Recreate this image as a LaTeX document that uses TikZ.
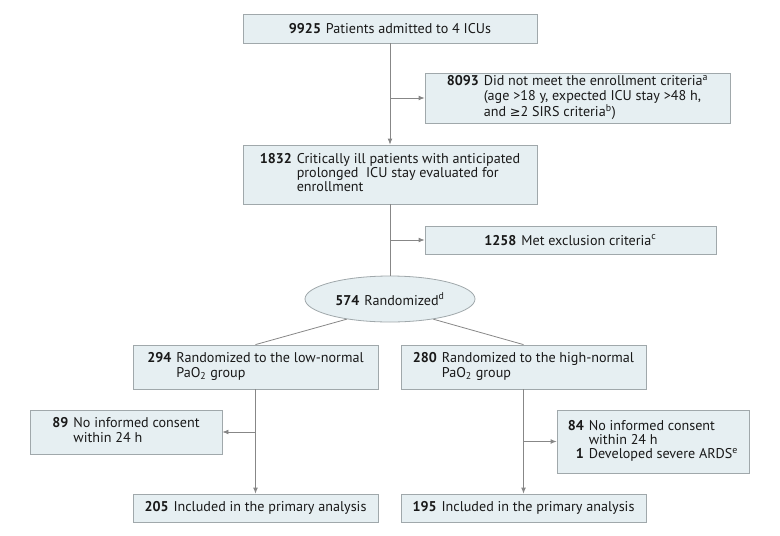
\documentclass[tikz,border=0pt]{standalone}
\usepackage{fontspec}
\setmainfont{PT Sans}
\newfontfamily\symfont{DejaVu Sans}
\usetikzlibrary{arrows.meta,shapes.geometric}

\definecolor{boxfill}{RGB}{230,239,242}
\definecolor{boxline}{RGB}{160,168,171}
\definecolor{flowline}{RGB}{135,135,135}

\tikzset{every picture/.style={line width=0.75pt}}
\tikzset{
  flowbox/.style={draw=boxline,fill=boxfill,line width=0.6pt,inner sep=0pt,
    font=\fontsize{10.6}{10.3}\selectfont,text=black!90},
  flowarr/.style={draw=flowline,line width=0.6pt,-{Latex[length=4.5pt,width=3.6pt]}},
  flowline/.style={draw=flowline,line width=0.6pt}
}
% number in bold, text hanging beside it
\newenvironment{cnt}{\begin{tabular}{@{}r@{\hspace{0.35em}}l@{}}}{\end{tabular}}

\begin{document}
\begin{tikzpicture}[x=0.75pt,y=0.75pt,yscale=-1,xscale=1]
    \useasboundingbox (0,0) rectangle (780,535);

    %Shape: Rectangle [admitted]
    \node [flowbox,minimum width=294*0.75pt,minimum height=29*0.75pt] (admit) at (390,28.5)
      {\textbf{9925}\hspace{0.35em}Patients admitted to 4 ICUs};
    %Shape: Rectangle [not eligible]
    \node [flowbox,minimum width=305*0.75pt,minimum height=50*0.75pt] (noteligible) at (577.5,98)
      {\begin{cnt}\textbf{8093} & Did not meet the enrollment criteria\textsuperscript{a}\\
        & (age >18 y, expected ICU stay >48 h,\\ & and {\symfont\fontsize{9.6}{10}\selectfont ≥}2 SIRS criteria\textsuperscript{b})\end{cnt}};
    %Shape: Rectangle [evaluated]
    \node [flowbox,minimum width=294*0.75pt,minimum height=59*0.75pt] (evaluated) at (390,174.5)
      {\begin{cnt}\textbf{1832} & Critically ill patients with anticipated\\
        & prolonged\ \ ICU stay evaluated for\\ & enrollment\end{cnt}};
    %Shape: Rectangle [excluded]
    \node [flowbox,minimum width=291*0.75pt,minimum height=28*0.75pt] (excluded) at (570.5,240)
      {\textbf{1258}\hspace{0.35em}Met exclusion criteria\textsuperscript{c}};
    %Shape: Ellipse [randomized]
    \node [flowbox,ellipse,minimum width=170*0.75pt,minimum height=46*0.75pt] (rand) at (390,299)
      {\textbf{574}\hspace{0.35em}Randomized\textsuperscript{d}};

    %Shape: Rectangle [low-normal]
    \node [flowbox,minimum width=245*0.75pt,minimum height=44*0.75pt] (low) at (255.5,367)
      {\begin{cnt}\textbf{294} & Randomized to the low-normal\\ & PaO\textsubscript{2} group\end{cnt}};
    %Shape: Rectangle [high-normal]
    \node [flowbox,minimum width=245*0.75pt,minimum height=44*0.75pt] (high) at (523.5,367)
      {\begin{cnt}\textbf{280} & Randomized to the high-normal\\ & PaO\textsubscript{2} group\end{cnt}};
    %Shape: Rectangle [low lost]
    \node [flowbox,minimum width=192*0.75pt,minimum height=44*0.75pt] (lowlost) at (126,432)
      {\begin{cnt}\textbf{89} & No informed consent\\ & within 24 h\end{cnt}};
    %Shape: Rectangle [high lost]
    \node [flowbox,minimum width=192*0.75pt,minimum height=63*0.75pt] (highlost) at (653,441.5)
      {\begin{cnt}\textbf{84} & No informed consent\\ & within 24 h\\
        \textbf{1} & Developed severe ARDS\textsuperscript{e}\end{cnt}};
    %Shape: Rectangle [low analysed]
    \node [flowbox,minimum width=245*0.75pt,minimum height=28*0.75pt] (lowdone) at (255.5,508)
      {\textbf{205}\hspace{0.35em}Included in the primary analysis};
    %Shape: Rectangle [high analysed]
    \node [flowbox,minimum width=245*0.75pt,minimum height=28*0.75pt] (highdone) at (523.5,508)
      {\textbf{195}\hspace{0.35em}Included in the primary analysis};

    %Straight Lines
    \draw [flowarr] (admit) -- (evaluated);
    \draw [flowarr] (admit.south |- noteligible.west) -- (noteligible.west);
    \draw [flowline] (evaluated) -- (rand);
    \draw [flowarr] (evaluated.south |- excluded.west) -- (excluded.west);
    \draw [flowline] (rand.205) -- (low.north);
    \draw [flowline] (rand.-25) -- (high.north);
    \draw [flowarr] (low) -- (lowdone);
    \draw [flowarr] (low.south |- lowlost.east) -- (lowlost.east);
    \draw [flowarr] (high) -- (highdone);
    \draw [flowarr] (high.south |- highlost.west) -- (highlost.west);

\end{tikzpicture}
\end{document}
